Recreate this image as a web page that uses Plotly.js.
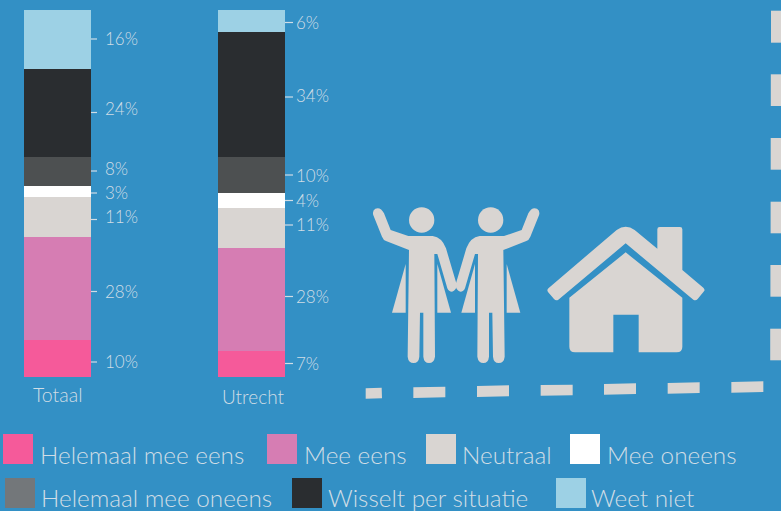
<!DOCTYPE html>
<html><head><meta charset="utf-8">
<script src="https://cdn.plot.ly/plotly-3.0.1.min.js"></script>
<style>html,body{margin:0;padding:0;background:#3390c5;overflow:hidden}#c{width:781px;height:511px}</style>
</head><body><div id="c"></div>
<script>
const W = 781, H = 511;
const categories = ['Totaal', 'Utrecht'];
const seriesNames = ['Helemaal mee eens','Mee eens','Neutraal','Mee oneens','Helemaal mee oneens','Wisselt per situatie','Weet niet'];
const barColors = ['#f55a9a','#d67db3','#d9d5d2','#ffffff','#4d5051','#2a2d30','#9dd1e5'];
const swatchColors = ['#f55a9a','#d67db3','#d9d5d2','#ffffff','#73777a','#2a2d30','#9dd1e5'];
const totaalValues = [10,28,11,3,8,24,16];
const utrechtValues = [7,28,11,4,10,34,6];
const BG = '#3390c5', TXT = '#d0dde6', ICON = '#d9d5d2';
const FONT = 'Lato, sans-serif';

const traces = seriesNames.map((n,i)=>({
  type:'bar', name:n, x:categories, y:[totaalValues[i],utrechtValues[i]],
  marker:{color:barColors[i],line:{width:0}}, hoverinfo:'x+y+name', showlegend:false
}));

const px = x=>x/W, py = y=>1-y/H;
function pathOf(str, f){
  return str.replace(/(-?[\d.]+),(-?[\d.]+)/g,(m,a,b)=>{const p=f(+a,+b);return px(p[0]).toFixed(5)+','+py(p[1]).toFixed(5);});
}
const shapes = [], annotations = [];
const paperShape = o=>Object.assign({xref:'paper',yref:'paper',line:{width:0},layer:'above'},o);

// value leaders and labels, bottom segment first
const labelRows = [
  [totaalValues, 104, 91, 97, [362,291.5,219.5,193,171,112.5,39], [361,291,216,193,169,109,38]],
  [utrechtValues, 295, 285, 293, [363.5,296.5,225,200.5,175,97,22.5], [363,296,225,201,175,95,22]]
];
labelRows.forEach(([vals,tx,l0,l1,ly,ty])=>{
  vals.forEach((v,i)=>{
    shapes.push(paperShape({type:'line',x0:px(l0),x1:px(l1),y0:py(ly[i]),y1:py(ly[i]),line:{color:TXT,width:1.2}}));
    annotations.push({xref:'paper',yref:'paper',x:px(tx),y:py(ty[i]),xanchor:'left',yanchor:'middle',showarrow:false,
      xshift:-1,text:v+'%',font:{family:FONT,size:17,weight:300,color:TXT}});
  });
});
[[57.5,394,19.5],[253,396,19]].forEach((p,i)=>{
  annotations.push({xref:'paper',yref:'paper',x:px(p[0]),y:py(p[1]),xanchor:'center',yanchor:'middle',showarrow:false,
    text:categories[i],font:{family:FONT,size:p[2],weight:300,color:TXT}});
});
const legendPos = [[3,434,41,454.5],[267,434,305,454.5],[426,434,463,454.5],[570,434,608,454.5],[5,478,42,497],[292,478,329,497],[556,478,592,497]];
seriesNames.forEach((n,i)=>{
  const [sx,sy,tx,ty]=legendPos[i];
  shapes.push(paperShape({type:'rect',x0:px(sx),x1:px(sx+30),y0:py(sy),y1:py(sy+30),fillcolor:swatchColors[i]}));
  annotations.push({xref:'paper',yref:'paper',x:px(tx),y:py(ty),xanchor:'left',yanchor:'middle',showarrow:false,xshift:-3,
    text:n,font:{family:FONT,size:24.3,weight:300,color:TXT}});
});

const z = (a,b)=>[350+a/3,190+b/3];
const zm = (a,b)=>[350+(637-a)/3,190+b/3];
const personBody = 'M 70,76 Q 66,62 76,56 Q 92,50 102,70 L 122,120 L 175,138 L 248,138 Q 276,142 288,175 L 319,280 Q 322,300 306,305 Q 296,305 292,295 L 262,192 L 253,192 L 255,500 Q 252,519 237,519 Q 222,519 220,500 L 220,368 L 210,368 L 208,500 Q 206,519 191,519 Q 175,519 173,500 L 177,180 L 108,153 Q 100,150 96,140 Z';
const skirtL = 'M 167,222 L 126,368 L 167,368 Z';
const skirtR = 'M 262,222 L 303,368 L 262,368 Z';
[z,zm].forEach(f=>{
  [personBody,skirtL,skirtR].forEach(p=>shapes.push(paperShape({type:'path',path:pathOf(p,f),fillcolor:ICON})));
  const c=f(215,90), r=38/3;
  shapes.push(paperShape({type:'circle',x0:px(c[0]-r),x1:px(c[0]+r),y0:py(c[1]-r),y1:py(c[1]+r),fillcolor:ICON}));
});
const roof = 'M 597,293 L 800,120 Q 827,100 854,120 L 922,176 L 922,118 Q 922,111 929,111 L 990,111 Q 997,111 997,118 L 997,240 L 1060,293 Q 1066,299 1062,304 L 1043,327 Q 1037,334 1030,329 L 827,160 L 625,329 Q 618,334 612,327 L 594,306 Q 589,299 597,293 Z';
const house = 'M 827,187 L 997,323 L 997,470 Q 997,487 980,487 L 866,487 L 866,374 L 790,374 L 790,487 L 675,487 Q 658,487 658,470 L 658,323 Z';
[roof,house].forEach(p=>shapes.push(paperShape({type:'path',path:pathOf(p,z),fillcolor:ICON})));

const bottomDashes = [
 [[47,595],[95,593],[96,625],[47,626]],
 [[190,592],[286,590],[286,622],[190,624]],
 [[381,588],[477,586],[477,619],[381,621]],
 [[572,585],[668,584],[668,616],[572,617]],
 [[762,582],[858,580],[858,612],[762,614]],
 [[953,579],[1049,577],[1049,609],[953,611]],
 [[1144,576],[1240,574],[1240,606],[1144,608]]
];
bottomDashes.forEach(d=>{
  const s='M '+d.map(p=>p.join(',')).join(' L ')+' Z';
  shapes.push(paperShape({type:'path',path:pathOf(s,z),fillcolor:ICON}));
});
[[771,10.7,42.7],[770.8,74.3,106],[770.7,138,169.7],[770.6,201.7,233.3],[770.4,265,296.7],[770.2,328.7,360.3]].forEach(d=>{
  const s=`M ${d[0]},${d[1]} L 781,${d[1]} L 781,${d[2]} L ${d[0]},${d[2]} Z`;
  shapes.push(paperShape({type:'path',path:pathOf(s,(a,b)=>[a,b]),fillcolor:ICON}));
});

const layout = {
  width:W,height:H,margin:{l:0,r:0,t:0,b:0,pad:0},
  paper_bgcolor:BG,plot_bgcolor:BG,barmode:'stack',bargap:1-67/194,
  font:{family:FONT,color:TXT},
  xaxis:{type:'category',categoryorder:'array',categoryarray:categories,range:[-57.5/194,(W-57.5)/194],
    visible:false,fixedrange:true},
  yaxis:{range:[-(H-376.8)/3.67,376.8/3.67],visible:false,fixedrange:true},
  shapes,annotations,showlegend:false
};
Plotly.newPlot('c',traces,layout,{displayModeBar:false,staticPlot:true});
</script></body></html>
